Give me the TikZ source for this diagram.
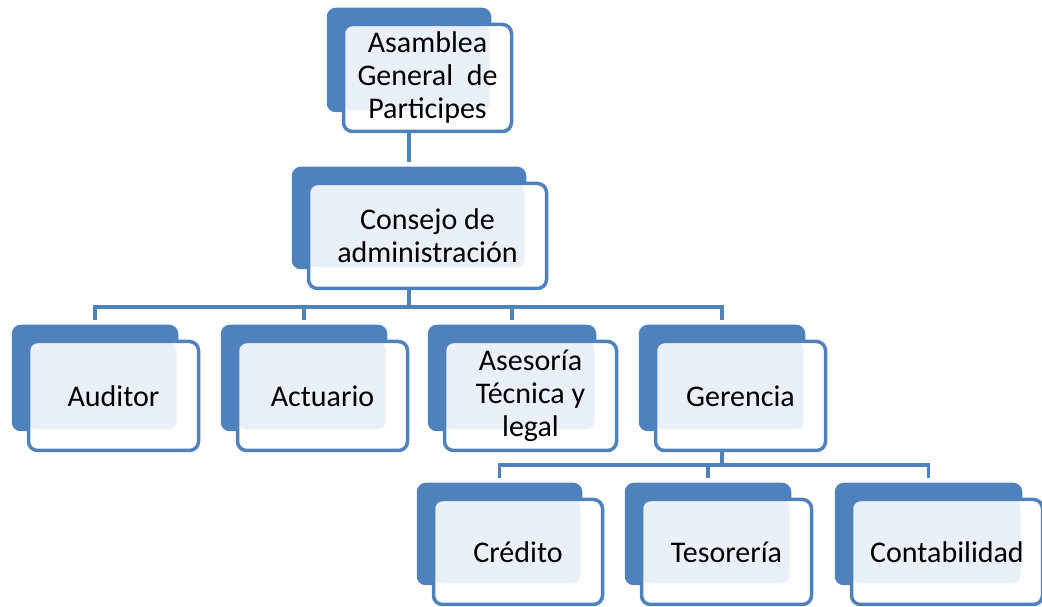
\documentclass[tikz,border=0pt]{standalone}
\usepackage{fontspec}
\setmainfont{Carlito}
\usetikzlibrary{backgrounds}
\definecolor{accent}{HTML}{4F81BD}
\definecolor{tint}{HTML}{EAF0F8}

\begin{document}
\begin{tikzpicture}
[ x=1pt, y=1pt
, unit/.style={rectangle, draw=accent, line width=3.5pt, fill=white, rounded corners=9pt, minimum width=#1, minimum height=106pt, inner sep=0pt, align=center, font=\fontsize{30}{33}\selectfont, path picture={\fill[tint, rounded corners=8pt] (path picture bounding box.north west) rectangle ([shift={(-22pt,21pt)}]path picture bounding box.south east);}}
, unit/.default=170pt
, link/.style={draw=accent, line width=3.5pt}
]
\useasboundingbox (0,0) rectangle (1042,607);
% First row:
\node (asamblea) [unit=168pt, minimum height=107pt] at (427.5,529) {Asamblea\\General~ de\\Participes};
% Second row:
\node (consejo) [unit=238pt, minimum height=105pt] at (427.5,371) {Consejo de\\administración};
% Third row:
\node (auditor) [unit, minimum height=109pt] at (113.5,211) {Auditor};
\node (actuario) [unit, minimum height=109pt] at (322.5,211) {Actuario};
\node (asesoria) [unit=172pt, minimum height=109pt] at (530.5,211) {Asesoría\\Técnica y\\legal};
\node (gerencia) [unit, minimum height=109pt] at (740.5,211) {Gerencia};
% Fourth row:
\node (credito) [unit=169pt, minimum height=105pt] at (518,55) {Crédito};
\node (tesoreria) [unit=170pt, minimum height=105pt] at (726.5,55) {Tesorería};
\node (contabilidad) [unit=191pt, minimum height=105pt] at (947,55) {Contabilidad};
\begin{scope}[on background layer]
\foreach \n in {asamblea,consejo,auditor,actuario,asesoria,gerencia,credito,tesoreria,contabilidad}
  \fill[accent, rounded corners=9pt] ([shift={(-15pt,15pt)}]\n.north west) rectangle ([shift={(-22pt,21pt)}]\n.south east);
\end{scope}
\coordinate (bus1) at (0,300);
\coordinate (bus2) at (0,142);
\draw [link] ([xshift=-18.5pt]asamblea.south) -- ([shift={(-18.5pt,20pt)}]consejo.north);
\draw [link] ([xshift=-18.5pt]consejo.south) -- ([xshift=-18.5pt]consejo.south |- bus1);
\draw [link] ([shift={(-18.5pt,20pt)}]auditor.north) |- ([xshift=-18.5pt]gerencia.north |- bus1) -- ([shift={(-18.5pt,20pt)}]gerencia.north);
\foreach \n in {actuario,asesoria}
  \draw [link] ([xshift=-18.5pt]\n.north |- bus1) -- ([shift={(-18.5pt,20pt)}]\n.north);
\draw [link] ([xshift=-18.5pt]gerencia.south) -- ([xshift=-18.5pt]gerencia.south |- bus2);
\draw [link] ([shift={(-18.5pt,20pt)}]credito.north) |- ([xshift=-18.5pt]contabilidad.north |- bus2) -- ([shift={(-18.5pt,20pt)}]contabilidad.north);
\draw [link] ([xshift=-18.5pt]tesoreria.north |- bus2) -- ([shift={(-18.5pt,20pt)}]tesoreria.north);
\end{tikzpicture}
\end{document}
